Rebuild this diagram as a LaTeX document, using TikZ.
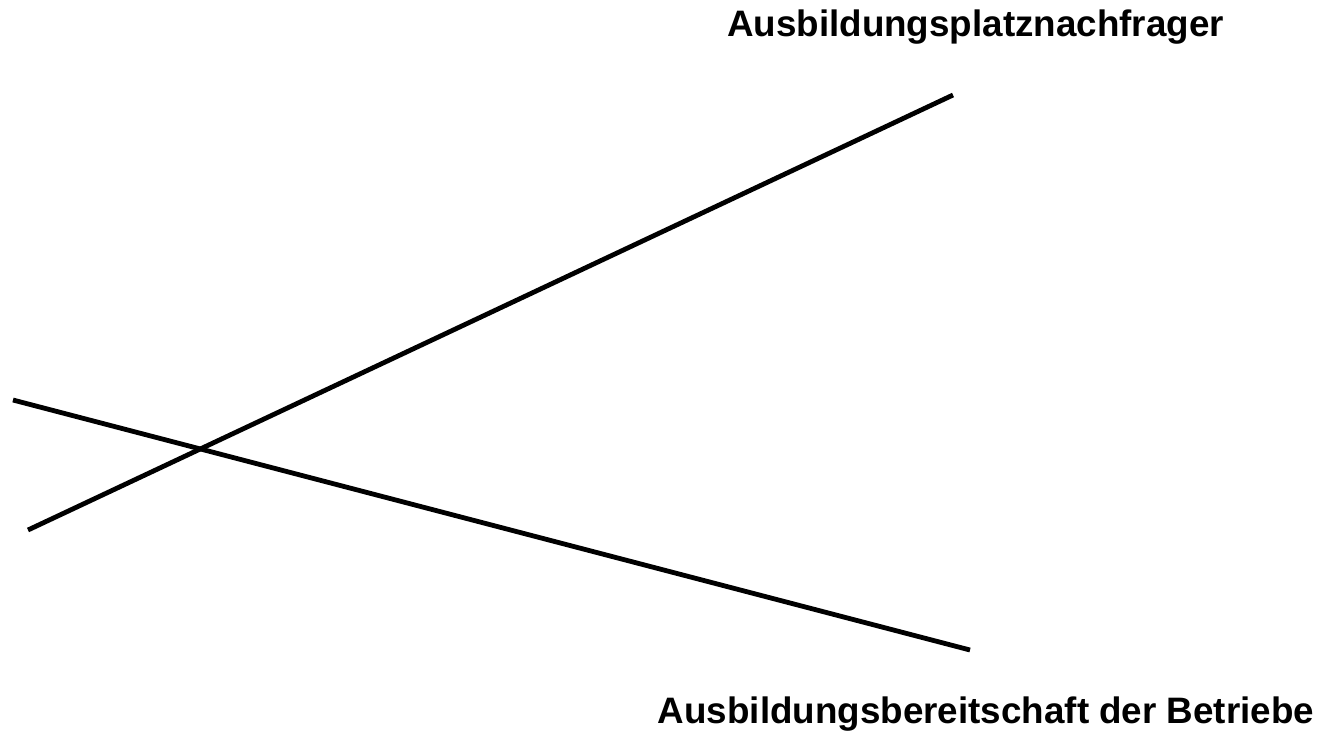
\documentclass[tikz,border=0pt]{standalone}
\usepackage{fontspec}
\setmainfont{Liberation Sans}
\tikzset{every picture/.style={line width=0.75pt}}
\tikzset{curve/.style={line width=3.6pt},
  caption/.style={inner sep=0pt,anchor=base,font=\fontsize{27.6}{32}\selectfont\bfseries}}

\begin{document}
\begin{tikzpicture}[x=0.75pt,y=0.75pt,yscale=-1,xscale=1]
		\useasboundingbox (0,0) rectangle (1323,733);
		
		%Demand line
		\coordinate (dlow) at (28,530);
		\coordinate (dhigh) at (953,95);
		\draw [curve] (dlow) -- (dhigh) ;
		%Supply line
		\coordinate (slow) at (13,400);
		\coordinate (shigh) at (970,650);
		\draw [curve] (slow) -- (shigh) ;
		
		\draw (975.5,36) node [caption] (nachfrage)  {Ausbildungsplatznachfrager};
		\draw (986,723) node [caption] (angebot)  {Ausbildungsbereitschaft der Betriebe};
		
	\end{tikzpicture}
\end{document}
